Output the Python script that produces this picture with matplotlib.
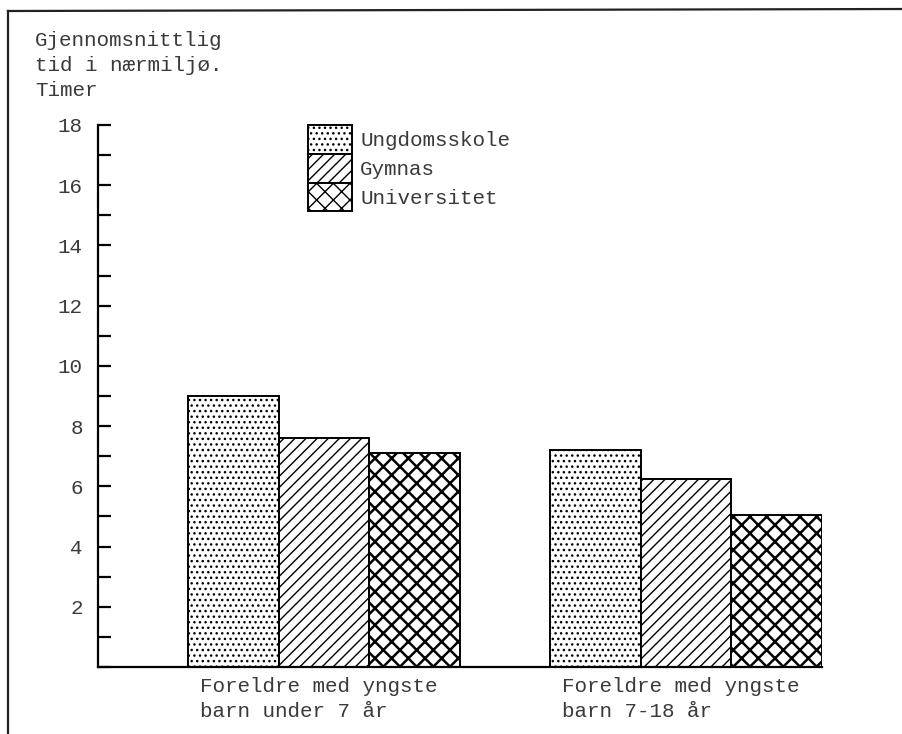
import matplotlib.pyplot as plt
from matplotlib.lines import Line2D
from matplotlib.ticker import MultipleLocator

# values (hours)
categories = ["Foreldre med yngste\nbarn under 7 år", "Foreldre med yngste\nbarn 7-18 år"]
series = ["Ungdomsskole", "Gymnas", "Universitet"]
ungdomsskole = [9.0, 7.2]
gymnas = [7.6, 6.25]
universitet = [7.1, 5.05]
yticks = [2, 4, 6, 8, 10, 12, 14, 16, 18]

plt.rcParams['font.family'] = ['Liberation Mono', 'DejaVu Sans Mono']
plt.rcParams['hatch.linewidth'] = 1.0
ink = '#3a3a3a'

W, H = 903, 734
fig = plt.figure(figsize=(W / 100, H / 100), dpi=100)
ax = fig.add_axes([98 / W, (H - 667) / H, (822 - 98) / W, (667 - 125) / H])

centers = [2.5, 6.5]
hatches = ['...', '///', 'xx']
values = [ungdomsskole, gymnas, universitet]
for k, (name, vals, h) in enumerate(zip(series, values, hatches)):
    xs = [c + (k - 1) for c in centers]
    bars = ax.bar(xs, vals, width=1.0, facecolor='white', edgecolor='black',
                  linewidth=1.4, hatch=h, label=name)
    if k == 2:
        for b in bars:
            if hasattr(b, 'set_hatch_linewidth'):
                b.set_hatch_linewidth(1.8)

ax.set_xlim(0, 8)
ax.set_ylim(0, 18)
for s in ['top', 'right']:
    ax.spines[s].set_visible(False)
for s in ['left', 'bottom']:
    ax.spines[s].set_linewidth(1.6)

ax.set_xticks([])
ax.yaxis.set_major_locator(MultipleLocator(2))
ax.yaxis.set_minor_locator(MultipleLocator(1))
ax.set_yticks(yticks)
ax.tick_params(axis='y', which='both', direction='in', length=9, width=1.6,
               pad=11, labelsize=15, labelcolor=ink)

for c, lab in zip(centers, categories):
    ax.text(c - 1.5 + 0.13, -0.33, lab, ha='left', va='top', fontsize=15,
            color=ink, linespacing=1.4, clip_on=False)

leg = ax.legend(loc='upper left', bbox_to_anchor=(308 / W, 1 - 125 / H),
                bbox_transform=fig.transFigure, frameon=False, fontsize=15,
                handlelength=2.1, handleheight=1.75, labelspacing=0,
                handletextpad=0.4, borderpad=0, borderaxespad=0)
for t in leg.get_texts():
    t.set_color(ink)

fig.text(35 / W, 1 - 31 / H, "Gjennomsnittlig\ntid i nærmiljø.\nTimer",
         ha='left', va='top', fontsize=15, color=ink, linespacing=1.4)

# page frame (left and top edge)
fig.add_artist(Line2D([8 / W, 8 / W], [0, 1 - 11 / H], transform=fig.transFigure,
                      color='#222222', linewidth=1.6))
fig.add_artist(Line2D([8 / W, 1], [1 - 11 / H, 1 - 9 / H], transform=fig.transFigure,
                      color='#222222', linewidth=1.6))

fig.savefig('out.png', dpi=100)
